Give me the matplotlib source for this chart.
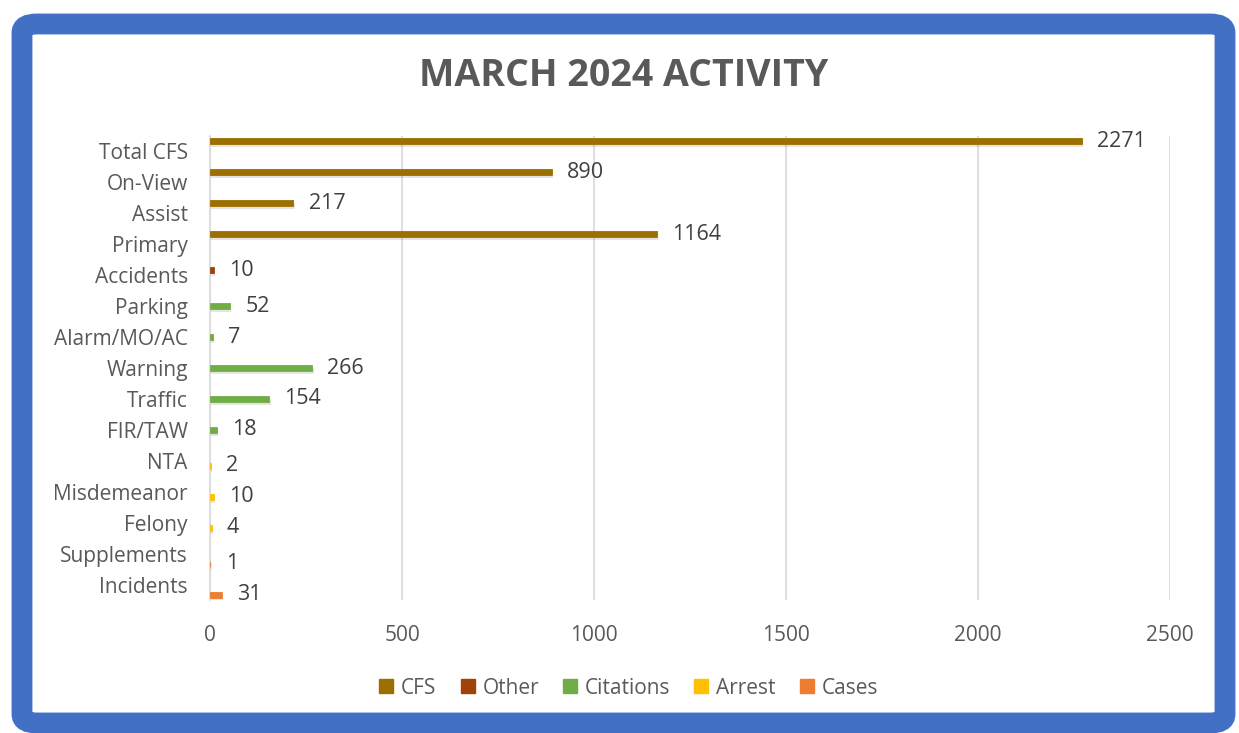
import numpy as np
import matplotlib
matplotlib.use("Agg")
import matplotlib.pyplot as plt
import matplotlib.patheffects as pe
from matplotlib.patches import FancyBboxPatch
from matplotlib.lines import Line2D

plt.rcParams['font.family'] = ['Open Sans', 'DejaVu Sans']

categories = ['Total CFS', 'On-View', 'Assist', 'Primary', 'Accidents', 'Parking',
              'Alarm/MO/AC', 'Warning', 'Traffic', 'FIR/TAW', 'NTA', 'Misdemeanor',
              'Felony', 'Supplements', 'Incidents']
series_names = ['CFS', 'Other', 'Citations', 'Arrest', 'Cases']
series_colors = ['#9C6F00', '#A0430A', '#70AD47', '#FFC000', '#ED7D31']
# which series each category belongs to, and its value
cat_series = ['CFS', 'CFS', 'CFS', 'CFS', 'Other', 'Citations', 'Citations',
              'Citations', 'Citations', 'Citations', 'Arrest', 'Arrest', 'Arrest',
              'Cases', 'Cases']
values = [2271, 890, 217, 1164, 10, 52, 7, 266, 154, 18, 2, 10, 4, 1, 31]

text_col = '#595959'

fig = plt.figure(figsize=(12.39, 7.33), dpi=100)

# blue frame
frame = FancyBboxPatch((22 / 1239, 10 / 733), 1203 / 1239, 699 / 733,
                       boxstyle='round,pad=0,rounding_size=0.012',
                       transform=fig.transFigure, facecolor='white',
                       edgecolor='#4270C4', linewidth=15, zorder=-5,
                       path_effects=[pe.SimplePatchShadow(offset=(0, 0), shadow_rgbFace='#888888', alpha=0.25),
                                     pe.Normal()])
fig.patches.append(frame)

ax = fig.add_axes([210 / 1239, 1 - 600 / 733, 960 / 1239, 464 / 733], zorder=2)
ax.set_facecolor('none')

y = np.arange(len(categories))
vals_arr = np.array(values)
ser_arr = np.array(cat_series)
step = 0.165
h = 0.2
for k, name in enumerate(series_names):
    idx = np.where(ser_arr == name)[0]
    offs = (k - 2) * step
    ax.barh(y[idx] + offs, vals_arr[idx], height=h, color=series_colors[k], zorder=3,
            edgecolor=series_colors[k], linewidth=0.6,
            path_effects=[pe.SimplePatchShadow(offset=(1, -2), alpha=0.12), pe.Normal()])

for i, (v, s) in enumerate(zip(values, cat_series)):
    k = series_names.index(s)
    ax.annotate(str(v), (v, i + (k - 2) * step), xytext=(11, 0), textcoords='offset points',
                va='center', ha='left', fontsize=15.5, color='#404040')

ax.set_xlim(0, 2500)
ax.set_ylim(len(categories) - 0.5, -0.5)
ax.set_xticks(np.arange(0, 2501, 500))
ax.set_yticks(y)
ax.set_yticklabels(categories)
ax.tick_params(axis='both', length=0, labelsize=15, labelcolor=text_col)
ax.tick_params(axis='y', pad=16)
ax.tick_params(axis='x', pad=18)
ax.grid(axis='x', color='#D9D9D9', linewidth=1.2, zorder=0)
for sp in ['top', 'right', 'bottom']:
    ax.spines[sp].set_visible(False)
ax.spines['left'].set_color('#D9D9D9')
ax.spines['left'].set_linewidth(1.2)

fig.text(624 / 1239, 1 - 76 / 733, 'MARCH 2024 ACTIVITY', ha='center', va='center',
         fontsize=27, fontweight='bold', color=text_col)

handles = [Line2D([], [], marker='s', linestyle='none', markersize=10,
                  markerfacecolor=c, markeredgecolor=c) for c in series_colors]
fig.legend(handles, series_names, loc='center', bbox_to_anchor=(628 / 1239, 1 - 688 / 733),
           ncol=5, frameon=False, fontsize=15, labelcolor=text_col,
           handlelength=0.8, handletextpad=0.3, columnspacing=1.1)

fig.savefig('out.png', dpi=100)
